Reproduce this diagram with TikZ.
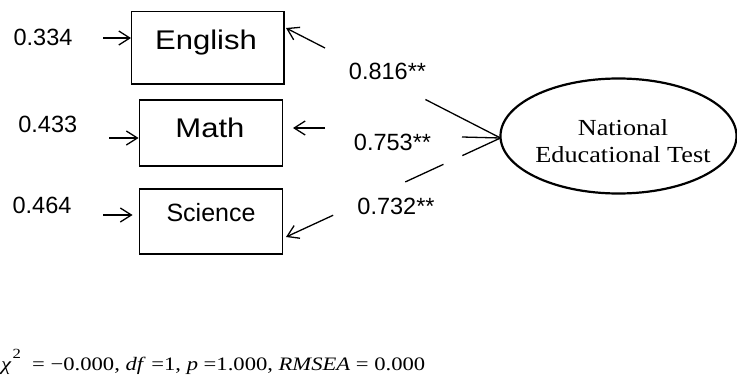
\documentclass[tikz,border=0pt]{standalone}
\usepackage{fontspec}
\setmainfont{Liberation Serif}
\newfontfamily\arialf{Liberation Sans}
\newfontfamily\arialw[FakeStretch=1.15]{Liberation Sans}
\newfontfamily\timesw[FakeStretch=1.14]{Liberation Serif}
\newfontfamily\timesfit[FakeStretch=1.19]{Liberation Serif}
\usetikzlibrary{arrows.meta,calc,shapes.geometric}
\begin{document}
\begin{tikzpicture}[x=1pt,y=-1pt,
  box/.style={draw,line width=1.4pt,inner sep=0pt},
  ln/.style={line width=1.3pt},
  arr/.style={line width=1.3pt,-{Straight Barb[length=11pt,width=14pt]}},
  num/.style={font=\arialf\fontsize{23.5}{28}\selectfont,anchor=base,inner sep=0pt},
  bigvar/.style={font=\arialw\fontsize{27}{32}\selectfont,anchor=base,inner sep=0pt},
  smallvar/.style={font=\arialf\fontsize{25}{30}\selectfont,anchor=base,inner sep=0pt}]
\useasboundingbox (0,0) rectangle (737,383);
% boxes
\node[box,minimum width=152.3pt,minimum height=72.3pt] (eng) at (207.85,47.85) {};
\node[box,minimum width=143.5pt,minimum height=66pt] (mat) at (211,133) {};
\node[box,minimum width=143.5pt,minimum height=65pt] (sci) at (211,221.5) {};
\node[bigvar] (engt) at (206,49) {English};
\node[bigvar] (matt) at (210,137) {Math};
\node[smallvar] (scit) at (211,221.7) {Science};
% latent
\node[draw,ellipse,line width=2.2pt,minimum width=236pt,minimum height=115pt,inner sep=0pt] (ne) at (618.5,136) {};
\node[font=\timesw\fontsize{23}{27}\selectfont,align=center,inner sep=0pt] (net) at (623,141) {National\\Educational Test};
% residual labels
\node[num] (r1) at (43,45) {0.334};
\node[num] (r2) at (47.8,132.7) {0.433};
\node[num] (r3) at (42,213.3) {0.464};
% loading labels
\node[num] (l1) at (387.5,79) {0.816**};
\node[num] (l2) at (392.5,150) {0.753**};
\node[num] (l3) at (396,214) {0.732**};
% residual arrows
\coordinate (e1) at (103,38);
\coordinate (e2) at (109,138);
\coordinate (e3) at (103,215);
\draw[arr] (e1) -- (e1 -| eng.west);
\draw[arr] (e2) -- (e2 -| mat.west);
\draw[arr,shorten >=6pt] (e3) -- (e3 -| sci.west);
% loadings
\coordinate (o) at (500.5,138);
\coordinate (tE) at (286,28);
\coordinate (tS) at (286,237);
\draw[ln] (o) -- ($(o)!0.35!(tE)$);
\draw[arr] ($(o)!0.818!(tE)$) -- (tE);
\coordinate (m1) at (462,137);
\coordinate (m2) at (325,128);
\coordinate (m3) at (293,128);
\draw[ln] (o) -- (m1);
\draw[arr] (m2) -- (m3);
\draw[ln] (o) -- ($(o)!0.178!(tS)$);
\draw[ln] ($(o)!0.266!(tS)$) -- ($(o)!0.444!(tS)$);
\draw[arr] ($(o)!0.78!(tS)$) -- (tS);
% fit
\node[anchor=base west,inner sep=0pt,font=\timesfit\fontsize{19}{22}\selectfont] (fit) at (1,370.7)
 {\textit{χ}\hspace{1pt}\raisebox{12pt}{\fontsize{14}{14}\selectfont 2}\ \ = −0.000,\ \textit{df} =1, \textit{p} =1.000, \textit{RMSEA} = 0.000};
\end{tikzpicture}
\end{document}
